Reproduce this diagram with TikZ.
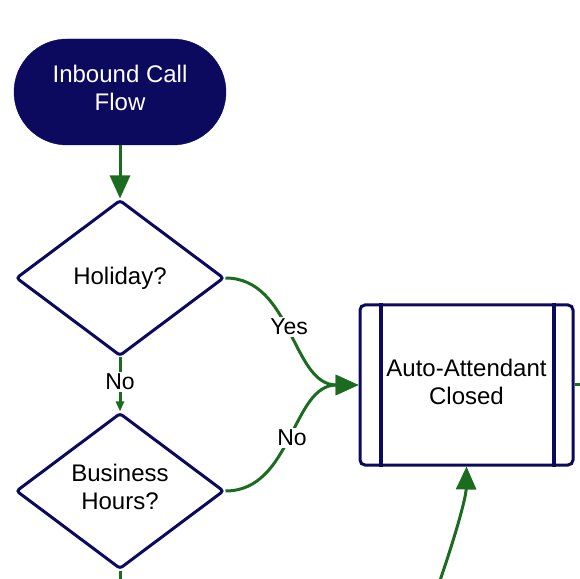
\documentclass[tikz,border=0pt]{standalone}
\usepackage{fontspec}
\setmainfont{Liberation Sans}
\usetikzlibrary{shapes.geometric,arrows.meta}
\definecolor{navy}{RGB}{12,10,94}
\definecolor{flowgreen}{RGB}{28,108,32}
\begin{document}
\begin{tikzpicture}[x=1pt,y=1pt,
  txt/.style={font=\fontsize{24}{28.5}\selectfont, align=center},
  terminal/.style={txt, fill=navy, draw=navy, text=white, rounded corners=53pt,
    minimum width=212pt, minimum height=106pt, inner sep=0pt},
  decision/.style={txt, diamond, draw=navy, line width=3pt, fill=white,
    minimum width=208pt, minimum height=156pt, inner sep=0pt, rounded corners=3pt},
  procbox/.style={txt, rectangle, draw=navy, line width=3pt, fill=white,
    minimum width=213pt, minimum height=160pt, rounded corners=5pt, inner sep=0pt},
  flow/.style={draw=flowgreen, line width=3pt, -{Triangle[length=23pt,width=20pt]}},
  lbl/.style={font=\fontsize{23}{27}\selectfont, fill=white, inner sep=2pt, text=black}
]
\useasboundingbox (0,0) rectangle (580,578);
\clip (0,0) rectangle (580,578);

\node[terminal] (start) at (120,486) {};
\node[txt, text=white] (starttext) at (120,490) {Inbound Call\\Flow};
\node[decision] (holiday) at (120,300) {Holiday?};
\node[decision] (business) at (120,87) {};
\node[txt] (businesstext) at (120,91) {Business\\Hours?};
\node[procbox] (closed) at (466.5,193) {};
\node[txt] (closedtext) at (466.5,196) {Auto-Attendant\\Closed};
\draw[navy, line width=4pt] ([xshift=22pt]closed.north west) -- ([xshift=22pt]closed.south west);
\draw[navy, line width=4pt] ([xshift=-21pt]closed.north east) -- ([xshift=-21pt]closed.south east);

\coordinate (below) at (120,-20);
\coordinate (bottomsrc) at (434,-20);
\coordinate (rightout) at (600,193);

\draw[flow] (start.south) -- (holiday.north);
\draw[flowgreen, line width=3pt, -{Triangle[length=10pt,width=8pt]}] (holiday.south) -- node[lbl, pos=0.45] {No} (business.north);
\draw[flow] (holiday.east) to[out=0, in=180] node[lbl, pos=0.47] {Yes} (closed.west);
\draw[flow] (business.east) to[out=0, in=180] node[lbl] {No} (closed.west);
\draw[flow] (bottomsrc) .. controls (455,40) and (466,80) .. (closed.south);
\draw[flowgreen, line width=3pt] (business.south) -- (below);
\draw[flowgreen, line width=3pt] (closed.east) -- (rightout);
\end{tikzpicture}
\end{document}
